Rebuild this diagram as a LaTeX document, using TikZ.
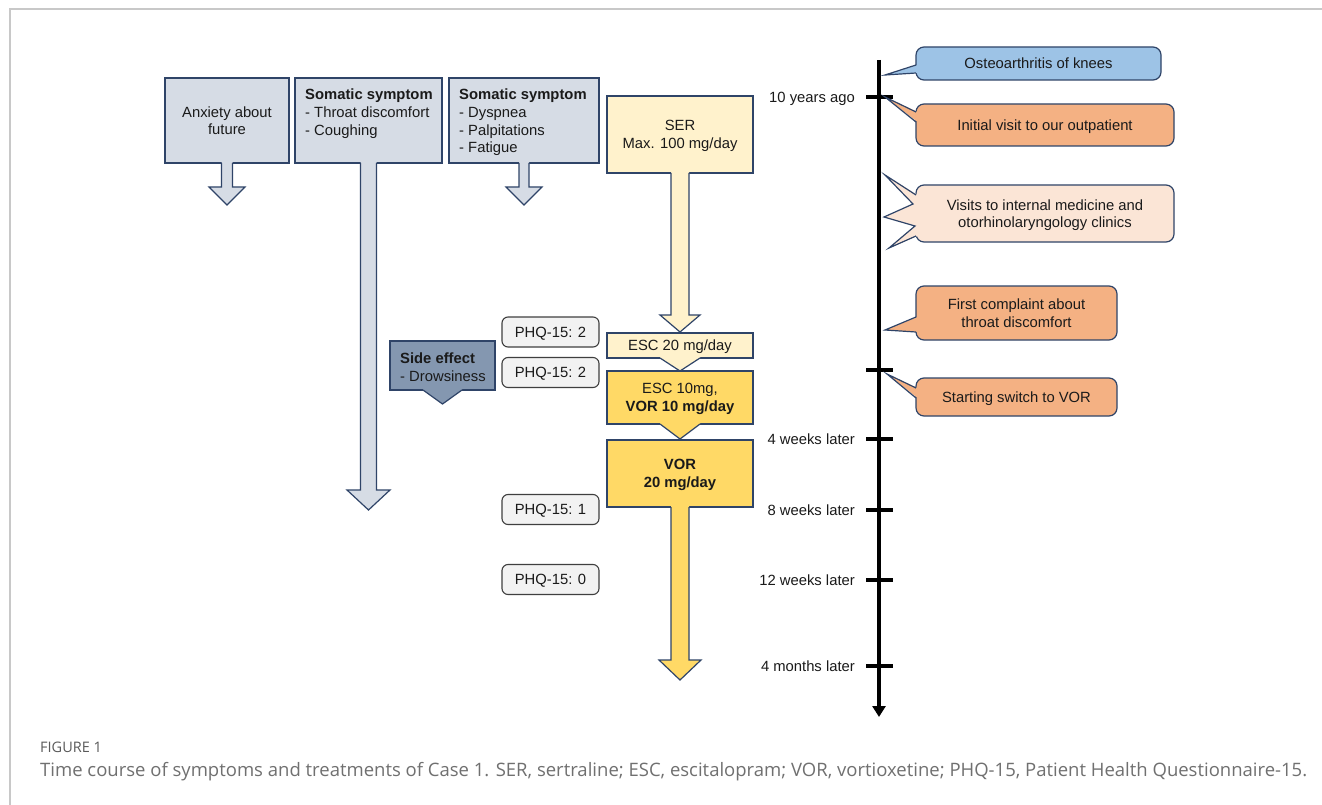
\documentclass[tikz,border=0pt]{standalone}
\usepackage{fontspec}
\setmainfont{Liberation Sans}
\newfontfamily\capfont{Open Sans}
\usetikzlibrary{arrows.meta,calc}
\definecolor{navy}{HTML}{2F4468}
\definecolor{boxgray}{HTML}{D6DCE5}
\definecolor{ltyellow}{HTML}{FFF2CC}
\definecolor{gold}{HTML}{FFD966}
\definecolor{sidegray}{HTML}{8497B0}
\definecolor{skyblue}{HTML}{9DC3E6}
\definecolor{orng}{HTML}{F4B183}
\definecolor{peach}{HTML}{FBE5D6}
\definecolor{phqfill}{HTML}{F2F2F2}
\definecolor{phqline}{HTML}{3F3F3F}
\definecolor{framegray}{HTML}{C8C8C8}
\definecolor{capgray}{HTML}{707070}
\definecolor{figgray}{HTML}{5A5A5A}
\definecolor{txt}{HTML}{1A1A1A}
% block arrow below a box: node, half shaft, shaft length, half head, head length, fill
\newcommand\blkarrow[6]{%
  \fill[#6] ($(#1.south)+(-#2,-1.5)$) -- ++(0,#3+1.5) -- ++(#2-#4,0) -- ++(#4,#5) -- ++(#4,-#5) -- ++(#2-#4,0) -- ++(0,-#3-1.5) -- cycle;
  \draw[edge] ($(#1.south)+(-#2,0)$) -- ++(0,#3) -- ++(#2-#4,0) -- ++(#4,#5) -- ++(#4,-#5) -- ++(#2-#4,0) -- ++(0,-#3);
}
% callout wedge: node, top offset, bottom offset, tip, fill
\newcommand\callwedge[5]{%
  \fill[#5] ($(#1.north west)+(1.6,#2)$) -- #4 -- ($(#1.north west)+(1.6,#3)$) -- cycle;
  \draw[edge] ($(#1.north west)+(0,#2)$) -- #4 -- ($(#1.north west)+(0,#3)$);
}
\begin{document}
\begin{tikzpicture}[x=1pt,y=-1pt,
  font=\fontsize{14.8}{17.6}\selectfont,
  edge/.style={draw=navy, line width=1.2pt, line join=miter},
  blk/.style={draw=navy, line width=1.2pt, inner sep=0pt, outer sep=0pt, anchor=north west, align=center, text=txt, text depth=0pt},
  sz/.style 2 args={minimum width=#1pt, minimum height=#2pt},
  callout/.style={blk, rounded corners=8pt},
  phq/.style={draw=phqline, fill=phqfill, line width=1.1pt, rounded corners=6pt, inner sep=0pt, minimum width=97pt, minimum height=30pt, text=txt, text depth=0pt},
  lefttext/.style={anchor=north west, inner sep=0pt, align=left, text=txt},
  tlabel/.style={anchor=east, inner sep=0pt, text=txt, text depth=0pt},
]
\useasboundingbox (0,0) rectangle (1322,805);
\fill[white] (0,0) rectangle (1322,805);
\draw[framegray, line width=1.5pt] (10,805) -- (10,9) -- (1322,9);

% symptom boxes
\node[blk, fill=boxgray, sz={124}{85}] (anx) at (165,78) {Anxiety about\\future};
\node[blk, fill=boxgray, sz={147}{85}] (som1) at (295,78) {};
\node[blk, fill=boxgray, sz={150}{85}] (som2) at (449,78) {};
\node[lefttext] (som1t) at (305,89) {\textbf{Somatic symptom}\\- Throat discomfort\\- Coughing};
\node[lefttext] (som2t) at (459,89) {\textbf{Somatic symptom}\\- Dyspnea\\- Palpitations\\- Fatigue};
\blkarrow{anx}{5.5}{24}{18}{18}{boxgray}
\blkarrow{som1}{8}{327}{21.5}{20}{boxgray}
\blkarrow{som2}{5}{24}{18}{18}{boxgray}

% treatment column
\node[blk, fill=ltyellow, sz={146}{77}] (ser) at (607,96) {SER\\Max. 100 mg/day};
\node[blk, fill=ltyellow, sz={146}{25}] (esc20) at (607,333) {ESC 20 mg/day};
\node[blk, fill=gold, sz={146}{53}] (esc10) at (607,371) {ESC 10mg,\\\textbf{VOR 10 mg/day}};
\node[blk, fill=gold, sz={146}{67}] (vor) at (607,440) {\textbf{VOR}\\\textbf{20 mg/day}};
\blkarrow{ser}{9}{142}{20}{17}{ltyellow}
\blkarrow{esc20}{20}{0}{20}{13}{ltyellow}
\blkarrow{esc10}{20}{0}{20}{15}{gold}
\blkarrow{vor}{9}{153}{21}{20}{gold}

% side effect
\node[blk, fill=sidegray, sz={105}{49}] (side) at (390,341) {};
\node[lefttext] (sidet) at (400,352.5) {\textbf{Side effect}\\- Drowsiness};
\blkarrow{side}{19.5}{0}{19.5}{14}{sidegray}

% PHQ scores
\node[phq] (p1) at (550.5,332) {PHQ-15: 2};
\node[phq] (p2) at (550.5,372.5) {PHQ-15: 2};
\node[phq] (p3) at (550.5,509.5) {PHQ-15: 1};
\node[phq] (p4) at (550.5,579.5) {PHQ-15: 0};

% timeline
\coordinate (ttop) at (879,60);
\coordinate (tbot) at (879,717);
\draw[line width=4pt, -{Triangle[width=13pt,length=11pt]}] (ttop) -- (tbot);
\foreach \n/\yy in {a/97,b/370,c/439,d/510,e/580,f/666}{
  \coordinate (tk\n) at (879,\yy);
  \draw[line width=3.5pt] ($(tk\n)+(-13,0)$) -- ($(tk\n)+(14,0)$);
}
\node[tlabel] (la) at (855,97) {10 years ago};
\node[tlabel] (lc) at (855,439) {4 weeks later};
\node[tlabel] (ld) at (855,510) {8 weeks later};
\node[tlabel] (le) at (855,580) {12 weeks later};
\node[tlabel] (lf) at (855,666) {4 months later};

% callouts
\node[callout, fill=skyblue, sz={245}{33}] (c1) at (916,47) {Osteoarthritis of knees};
\node[callout, fill=orng, sz={258}{42}] (c2) at (916,104) {Initial visit to our outpatient};
\node[callout, fill=peach, sz={258}{57}] (c3) at (916,185) {Visits to internal medicine and\\otorhinolaryngology clinics};
\node[callout, fill=orng, sz={201}{54}] (c4) at (916,286) {First complaint about\\throat discomfort};
\node[callout, fill=orng, sz={201}{38}] (c5) at (916,378) {Starting switch to VOR};
\coordinate (t1) at (885,75);
\coordinate (t2) at (885,97);
\coordinate (t4) at (885,330);
\coordinate (t5) at (887,374);
\callwedge{c1}{18}{26}{(t1)}{skyblue}
\callwedge{c2}{8}{18}{(t2)}{orng}
\callwedge{c4}{31}{46}{(t4)}{orng}
\callwedge{c5}{10}{20}{(t5)}{orng}
\coordinate (s1) at (885,175);
\coordinate (s2) at (913,204);
\coordinate (s3) at (884,217);
\coordinate (s4) at (915,226);
\coordinate (s5) at (889,248);
\fill[peach] ($(c3.north west)+(1.6,10)$) -- (s1) -- (s2) -- (s3) -- (s4) -- (s5) -- ($(c3.north west)+(1.6,51)$) -- cycle;
\draw[edge] ($(c3.north west)+(0,10)$) -- (s1) -- (s2) -- (s3) -- (s4) -- (s5) -- ($(c3.north west)+(0,51)$);

% caption
\node[anchor=west, inner sep=0pt, text=figgray, font=\capfont\fontsize{14.5}{17}\selectfont] (fig) at (40,747) {FIGURE 1};
\node[anchor=west, inner sep=0pt, text=capgray, font=\capfont\fontsize{18.5}{22}\selectfont] (cap) at (40,772) {Time course of symptoms and treatments of Case 1. SER, sertraline; ESC, escitalopram; VOR, vortioxetine; PHQ-15, Patient Health Questionnaire-15.};
\end{tikzpicture}
\end{document}
